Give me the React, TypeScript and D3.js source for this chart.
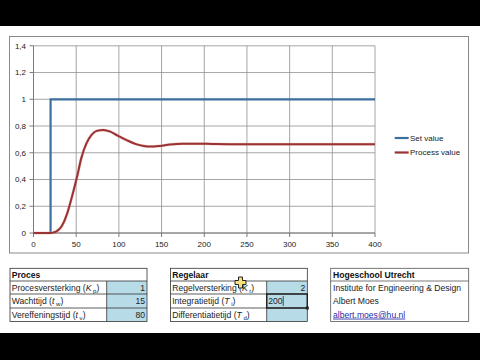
import React from "react";
import * as d3 from "d3";

// ---- chart data ----
const setTime = [0, 20, 20, 400];
const setValue = [0, 0, 1, 1];
const pvTime = [0, 20, 23, 27, 33, 39, 45, 51, 56, 62, 68, 74, 82, 90, 98, 109, 120, 129, 137, 148, 160, 175, 191, 210, 242, 300, 400];
const pvValue = [0, 0, 0.003, 0.012, 0.05, 0.137, 0.27, 0.42, 0.56, 0.67, 0.734, 0.764, 0.771, 0.758, 0.73, 0.695, 0.665, 0.651, 0.646, 0.651, 0.661, 0.667, 0.668, 0.666, 0.664, 0.664, 0.664];
const xTicks = [0, 50, 100, 150, 200, 250, 300, 350, 400];
const yTicks = [0, 0.2, 0.4, 0.6, 0.8, 1, 1.2, 1.4];
const seriesNames = ["Set value", "Process value"];
const seriesColors = ["#3d6f9f", "#9a3333"];

// ---- table data ----
const procesTitle = "Proces";
const procesNames = ["Procesversterking", "Wachttijd", "Vereffeningstijd"];
const procesSymbols = ["K", "t", "t"];
const procesSubs = ["p", "w", "v"];
const procesValues = ["1", "15", "80"];

const regelTitle = "Regelaar";
const regelNames = ["Regelversterking", "Integratietijd", "Differentiatietijd"];
const regelSymbols = ["K", "T", "T"];
const regelSubs = ["r", "i", "d"];
const regelValues = ["2", "200", ""];

const infoTitle = "Hogeschool Utrecht";
const infoLines = ["Institute for Engineering & Design", "Albert Moes", "albert.moes@hu.nl"];

const FONT = "'Liberation Sans', Arial, sans-serif";

export default function App() {
  const x = d3.scaleLinear().domain([0, 400]).range([33.5, 375]);
  const y = d3.scaleLinear().domain([0, 1.4]).range([233, 45.8]);
  const fmt = (v: number) => String(+v.toFixed(1)).replace(".", ",");

  const setPts = setTime.map((t, i) => [t, setValue[i]] as [number, number]);
  const pvPts = pvTime.map((t, i) => [t, pvValue[i]] as [number, number]);
  const lineLin = d3.line<[number, number]>().x(d => x(d[0])).y(d => y(d[1]));
  const lineSmooth = d3
    .line<[number, number]>()
    .x(d => x(d[0]))
    .y(d => y(d[1]))
    .curve(d3.curveMonotoneX);

  const rowsY = [268.3, 281, 294, 308, 321.5];
  const fs = 8.6;

  const renderTable = (
    left: number,
    divider: number,
    right: number,
    title: string,
    names: string[],
    syms: string[],
    subs: string[],
    vals: string[],
    editIndex: number
  ) => (
    <g>
      {names.map((_, i) => (
        <rect key={"f" + i} x={divider} y={rowsY[i + 1]} width={right - divider} height={rowsY[i + 2] - rowsY[i + 1]} fill="#b8dbe8" />
      ))}
      <rect x={left} y={rowsY[0]} width={right - left} height={rowsY[4] - rowsY[0]} fill="none" stroke="#333" strokeWidth={0.8} />
      {[1, 2, 3].map(i => (
        <line key={"h" + i} x1={left} x2={right} y1={rowsY[i]} y2={rowsY[i]} stroke="#333" strokeWidth={0.8} />
      ))}
      <line x1={divider} x2={divider} y1={rowsY[1]} y2={rowsY[4]} stroke="#333" strokeWidth={0.8} />
      <text x={left + 1.7} y={rowsY[0] + 9.5} fontFamily={FONT} fontSize={fs} fontWeight="bold" fill="#111">
        {title}
      </text>
      {names.map((n, i) => (
        <text key={"n" + i} x={left + 1.7} y={rowsY[i + 1] + 9.6} fontFamily={FONT} fontSize={fs} fill="#222">
          {n} (
          <tspan fontStyle="italic">{syms[i]}</tspan>
          <tspan fontSize={fs * 0.7} dy={2}>
            {" " + subs[i]}
          </tspan>
          <tspan dy={-2}>)</tspan>
        </text>
      ))}
      {vals.map((v, i) =>
        i === editIndex ? (
          <g key={"v" + i}>
            <rect x={divider} y={rowsY[i + 1]} width={right - divider} height={rowsY[i + 2] - rowsY[i + 1]} fill="none" stroke="#222" strokeWidth={1.4} />
            <rect x={right - 1.5} y={rowsY[i + 2] - 1.5} width={3} height={3} fill="#222" />
            <text x={divider + 1.5} y={rowsY[i + 1] + 9.6} fontFamily={FONT} fontSize={fs} fill="#222">
              {v}
            </text>
            <line x1={divider + 16.5} x2={divider + 16.5} y1={rowsY[i + 1] + 2} y2={rowsY[i + 2] - 2} stroke="#222" strokeWidth={0.8} />
          </g>
        ) : (
          <text key={"v" + i} x={right - 2} y={rowsY[i + 1] + 9.6} fontFamily={FONT} fontSize={fs} textAnchor="end" fill="#222">
            {v}
          </text>
        )
      )}
    </g>
  );

  return (
    <svg width={480} height={360} style={{ position: "absolute", left: 0, top: 0 }} xmlns="http://www.w3.org/2000/svg">
      <rect x={0} y={0} width={480} height={360} fill="#fff" />
      <rect x={0} y={0} width={480} height={26} fill="#000" />
      <rect x={0} y={333} width={480} height={27} fill="#000" />

      {/* chart frame */}
      <rect x={9.5} y={36.5} width={459} height={216.5} fill="#fff" stroke="#8a8a8a" strokeWidth={1} />

      {/* gridlines */}
      {yTicks.map(t => (
        <line key={"gy" + t} x1={x(0)} x2={x(400)} y1={y(t)} y2={y(t)} stroke="#8f8f8f" strokeWidth={0.8} />
      ))}
      {xTicks.map(t => (
        <line key={"gx" + t} x1={x(t)} x2={x(t)} y1={y(0)} y2={y(1.4)} stroke="#8f8f8f" strokeWidth={0.8} />
      ))}
      {/* axes */}
      <line x1={x(0)} x2={x(0)} y1={y(0)} y2={y(1.4)} stroke="#7a7a7a" strokeWidth={1} />
      <line x1={x(0)} x2={x(400)} y1={y(0)} y2={y(0)} stroke="#7a7a7a" strokeWidth={1} />
      {yTicks.map(t => (
        <g key={"ty" + t}>
          <line x1={x(0) - 4} x2={x(0)} y1={y(t)} y2={y(t)} stroke="#7a7a7a" />
          <text x={26} y={y(t) + 2.8} fontFamily={FONT} fontSize={8} textAnchor="end" fill="#222">
            {fmt(t)}
          </text>
        </g>
      ))}
      {xTicks.map(t => (
        <g key={"tx" + t}>
          <line x1={x(t)} x2={x(t)} y1={y(0)} y2={y(0) + 4} stroke="#7a7a7a" />
          <text x={x(t)} y={247} fontFamily={FONT} fontSize={8} textAnchor="middle" fill="#222">
            {t}
          </text>
        </g>
      ))}

      {/* series */}
      <path d={lineLin(setPts) || ""} fill="none" stroke={seriesColors[0]} strokeWidth={2.2} />
      <path d={lineSmooth(pvPts) || ""} fill="none" stroke="#e8a0a0" strokeWidth={3} opacity={0.5} />
      <path d={lineSmooth(pvPts) || ""} fill="none" stroke={seriesColors[1]} strokeWidth={2} />

      {/* legend */}
      {seriesNames.map((n, i) => (
        <g key={n}>
          <line x1={394.7} x2={408.7} y1={138 + i * 14.5} y2={138 + i * 14.5} stroke={seriesColors[i]} strokeWidth={2.2} />
          <text x={410} y={138 + i * 14.5 + 2.8} fontFamily={FONT} fontSize={8} fill="#222">
            {n}
          </text>
        </g>
      ))}

      {/* tables */}
      {renderTable(10, 106.7, 147, procesTitle, procesNames, procesSymbols, procesSubs, procesValues, -1)}
      {renderTable(170.5, 266.7, 307.3, regelTitle, regelNames, regelSymbols, regelSubs, regelValues, 1)}

      {/* info table */}
      <rect x={330.7} y={rowsY[0]} width={138} height={rowsY[4] - rowsY[0]} fill="none" stroke="#555" strokeWidth={0.8} />
      <line x1={330.7} x2={468.7} y1={rowsY[1]} y2={rowsY[1]} stroke="#555" strokeWidth={0.8} />
      <text x={333} y={rowsY[0] + 9.5} fontFamily={FONT} fontSize={fs} fontWeight="bold" fill="#111">
        {infoTitle}
      </text>
      {infoLines.map((l, i) => (
        <text
          key={l}
          x={333}
          y={rowsY[i + 1] + 9.6}
          fontFamily={FONT}
          fontSize={fs}
          fill={i === 2 ? "#2a2aa8" : "#222"}
          textDecoration={i === 2 ? "underline" : undefined}
        >
          {l}
        </text>
      ))}

      {/* mouse cursor (plus) */}
      <path
        d="M238.5,277 h4 v3.5 h3.5 v4 h-3.5 v3.5 h-4 v-3.5 h-3.5 v-4 h3.5 z"
        fill="#f6e27a"
        stroke="#222"
        strokeWidth={1}
      />
    </svg>
  );
}
